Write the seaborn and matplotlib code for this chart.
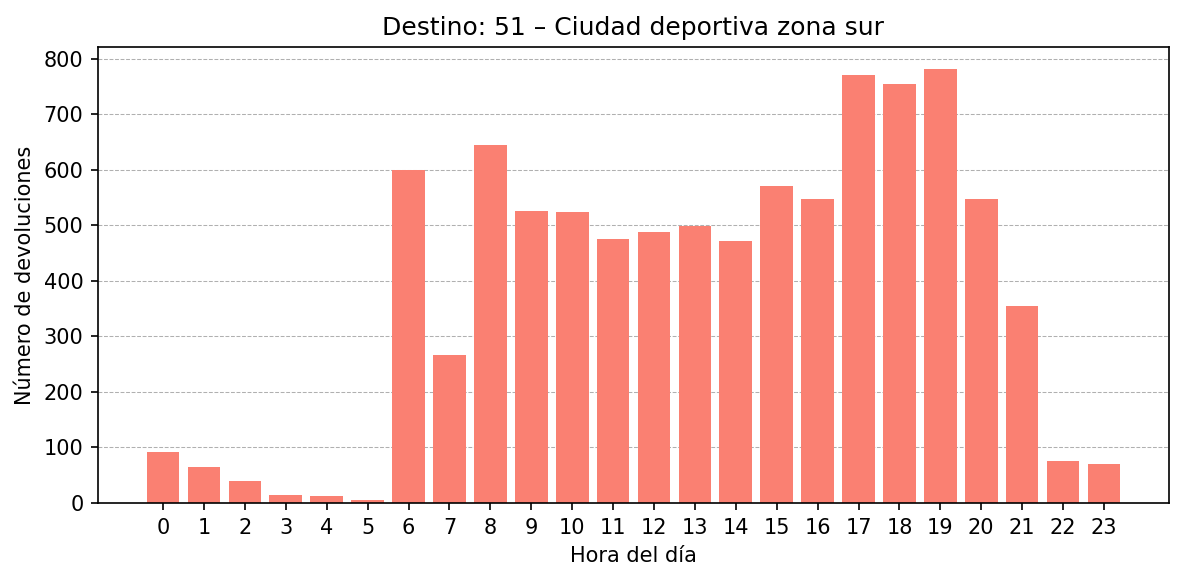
import matplotlib
matplotlib.use("Agg")
import matplotlib.pyplot as plt
import seaborn as sns
import pandas as pd

horas = list(range(24))
devoluciones = [91, 64, 39, 14, 12, 5, 600, 266, 644, 526, 524, 475, 488, 499, 472,
                570, 547, 770, 754, 782, 547, 354, 75, 70]

df = pd.DataFrame({"hora": horas, "dev": devoluciones})

fig = plt.figure(figsize=(1184/150, 581/150), dpi=150)
ax = fig.add_axes([98/1184, 1 - 503/581, (1169-98)/1184, (503-47)/581])

sns.barplot(data=df, x="hora", y="dev", color="salmon", saturation=1, width=0.8,
            native_scale=True, ax=ax, zorder=2)
ax.set_xticks(horas)
ax.set_xticklabels([str(h) for h in horas])
ax.set_xlim(-1.59, 24.59)
ax.set_ylim(0, 821)
ax.grid(axis="y", linestyle="--", linewidth=0.5, color="#b0b0b0", zorder=0)
ax.set_axisbelow(True)
ax.set_title("Destino: 51 – Ciudad deportiva zona sur", fontsize=12)
ax.set_xlabel("Hora del día")
ax.set_ylabel("Número de devoluciones")

fig.savefig("out.png", dpi=150)
